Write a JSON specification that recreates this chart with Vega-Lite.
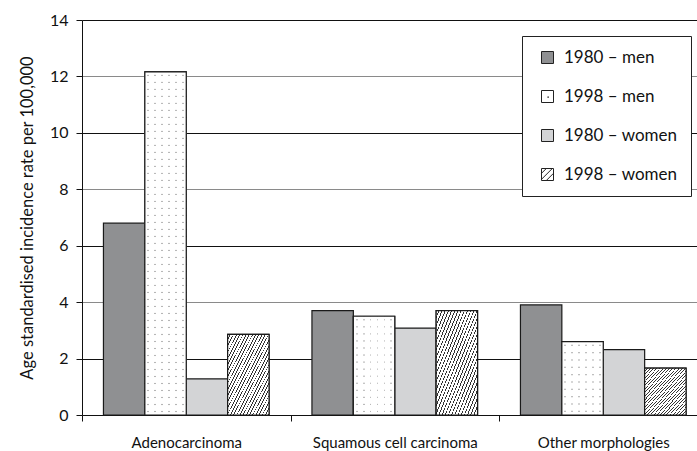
{
  "$schema": "https://vega.github.io/schema/vega-lite/v6.json",
  "width": 615,
  "height": 395,
  "autosize": {"type": "none"},
  "padding": {"left": 82, "top": 20, "right": 0, "bottom": 36},
  "background": "white",
  "config": {"view": {"stroke": null}, "font": "Lato"},
  "data": {
    "values": [
      {"category": "Adenocarcinoma", "series": "1980 – men", "value": 6.8},
      {"category": "Adenocarcinoma", "series": "1998 – men", "value": 12.16},
      {"category": "Adenocarcinoma", "series": "1980 – women", "value": 1.28},
      {"category": "Adenocarcinoma", "series": "1998 – women", "value": 2.86},
      {"category": "Squamous cell carcinoma", "series": "1980 – men", "value": 3.7},
      {"category": "Squamous cell carcinoma", "series": "1998 – men", "value": 3.5},
      {"category": "Squamous cell carcinoma", "series": "1980 – women", "value": 3.08},
      {"category": "Squamous cell carcinoma", "series": "1998 – women", "value": 3.7},
      {"category": "Other morphologies", "series": "1980 – men", "value": 3.9},
      {"category": "Other morphologies", "series": "1998 – men", "value": 2.6},
      {"category": "Other morphologies", "series": "1980 – women", "value": 2.32},
      {"category": "Other morphologies", "series": "1998 – women", "value": 1.66}
    ]
  },
  "encoding": {
    "x": {
      "field": "category", "type": "nominal",
      "scale": {"domain": ["Adenocarcinoma", "Squamous cell carcinoma", "Other morphologies"], "range": [0, 625.5], "paddingInner": 0, "paddingOuter": 0},
      "axis": {"title": null, "labelAngle": 0, "labelFontSize": 15, "labelColor": "#111", "labelPadding": 14, "tickBand": "extent", "tickSize": 6, "tickColor": "#111", "domainColor": "#111", "grid": false}
    },
    "xOffset": {
      "field": "series", "type": "nominal",
      "scale": {"domain": ["1980 – men", "1998 – men", "1980 – women", "1998 – women"], "paddingInner": 0, "paddingOuter": 0.518}
    },
    "y": {
      "field": "value", "type": "quantitative",
      "scale": {"domain": [0, 14], "nice": false},
      "axis": {
        "title": "Age standardised incidence rate per 100,000",
        "titleFontSize": 16.5, "titleFontWeight": "normal", "titleColor": "#111", "titlePadding": 14,
        "values": [0, 2, 4, 6, 8, 10, 12, 14],
        "labelFontSize": 16, "labelColor": "#111", "labelPadding": 8,
        "tickSize": 6, "tickColor": "#111", "domainColor": "#111",
        "grid": true,
        "gridColor": {"condition": {"test": "datum.value % 4 === 0", "value": "#8a8a8a"}, "value": "#111"},
        "gridWidth": 1
      }
    }
  },
  "layer": [
    {
      "mark": {"type": "bar", "stroke": "#1a1a1a", "strokeWidth": 1.2},
      "encoding": {
        "color": {
          "field": "series", "type": "nominal",
          "scale": {"domain": ["1980 – men", "1998 – men", "1980 – women", "1998 – women"], "range": ["#8f9092", "#ffffff", "#d3d4d6", "#ffffff"]},
          "legend": {
            "orient": "none", "legendX": 440, "legendY": 16, "title": null,
            "padding": 13, "symbolType": "square", "symbolSize": 144,
            "symbolStrokeColor": "#222", "symbolStrokeWidth": 1, "symbolOffset": 4,
            "labelFontSize": 17, "labelOffset": 8, "rowPadding": 21, "labelColor": "#111",
            "strokeColor": "#222", "fillColor": "#ffffff",
            "encode": {"symbols": {"update": {
              "stroke": {"value": "#222"},
              "strokeWidth": {"value": 1},
              "shape": [
                {"test": "datum.value === '1998 – women'", "value": "M-1,-1H1V1H-1Z M-1,-0.2L-0.2,-1 M-1,0.8L0.8,-1 M-0.2,1L1,-0.2"},
                {"test": "datum.value === '1998 – men'", "value": "M-1,-1H1V1H-1Z M0.05,0.05h0.1v0.1h-0.1Z"},
                {"value": "square"}
              ]
            }}}
          }
        }
      }
    },
    {
      "transform": [{"filter": "datum.series === '1998 – women'"}],
      "mark": {"type": "bar", "stroke": "#1a1a1a", "strokeWidth": 1.2, "fill": {"gradient": "linear", "x1": 0, "y1": 0, "x2": 1, "y2": 1, "stops": [
        {"offset": 0, "color": "#fff"}, {"offset": 0.0277, "color": "#fff"}, {"offset": 0.0277, "color": "#333"}, {"offset": 0.0385, "color": "#333"},
        {"offset": 0.0385, "color": "#fff"}, {"offset": 0.0661, "color": "#fff"}, {"offset": 0.0661, "color": "#333"}, {"offset": 0.0769, "color": "#333"},
        {"offset": 0.0769, "color": "#fff"}, {"offset": 0.1046, "color": "#fff"}, {"offset": 0.1046, "color": "#333"}, {"offset": 0.1154, "color": "#333"},
        {"offset": 0.1154, "color": "#fff"}, {"offset": 0.1431, "color": "#fff"}, {"offset": 0.1431, "color": "#333"}, {"offset": 0.1538, "color": "#333"},
        {"offset": 0.1538, "color": "#fff"}, {"offset": 0.1815, "color": "#fff"}, {"offset": 0.1815, "color": "#333"}, {"offset": 0.1923, "color": "#333"},
        {"offset": 0.1923, "color": "#fff"}, {"offset": 0.22, "color": "#fff"}, {"offset": 0.22, "color": "#333"}, {"offset": 0.2308, "color": "#333"},
        {"offset": 0.2308, "color": "#fff"}, {"offset": 0.2585, "color": "#fff"}, {"offset": 0.2585, "color": "#333"}, {"offset": 0.2692, "color": "#333"},
        {"offset": 0.2692, "color": "#fff"}, {"offset": 0.2969, "color": "#fff"}, {"offset": 0.2969, "color": "#333"}, {"offset": 0.3077, "color": "#333"},
        {"offset": 0.3077, "color": "#fff"}, {"offset": 0.3354, "color": "#fff"}, {"offset": 0.3354, "color": "#333"}, {"offset": 0.3462, "color": "#333"},
        {"offset": 0.3462, "color": "#fff"}, {"offset": 0.3738, "color": "#fff"}, {"offset": 0.3738, "color": "#333"}, {"offset": 0.3846, "color": "#333"},
        {"offset": 0.3846, "color": "#fff"}, {"offset": 0.4123, "color": "#fff"}, {"offset": 0.4123, "color": "#333"}, {"offset": 0.4231, "color": "#333"},
        {"offset": 0.4231, "color": "#fff"}, {"offset": 0.4508, "color": "#fff"}, {"offset": 0.4508, "color": "#333"}, {"offset": 0.4615, "color": "#333"},
        {"offset": 0.4615, "color": "#fff"}, {"offset": 0.4892, "color": "#fff"}, {"offset": 0.4892, "color": "#333"}, {"offset": 0.5, "color": "#333"},
        {"offset": 0.5, "color": "#fff"}, {"offset": 0.5277, "color": "#fff"}, {"offset": 0.5277, "color": "#333"}, {"offset": 0.5385, "color": "#333"},
        {"offset": 0.5385, "color": "#fff"}, {"offset": 0.5661, "color": "#fff"}, {"offset": 0.5661, "color": "#333"}, {"offset": 0.5769, "color": "#333"},
        {"offset": 0.5769, "color": "#fff"}, {"offset": 0.6046, "color": "#fff"}, {"offset": 0.6046, "color": "#333"}, {"offset": 0.6154, "color": "#333"},
        {"offset": 0.6154, "color": "#fff"}, {"offset": 0.6431, "color": "#fff"}, {"offset": 0.6431, "color": "#333"}, {"offset": 0.6538, "color": "#333"},
        {"offset": 0.6538, "color": "#fff"}, {"offset": 0.6815, "color": "#fff"}, {"offset": 0.6815, "color": "#333"}, {"offset": 0.6923, "color": "#333"},
        {"offset": 0.6923, "color": "#fff"}, {"offset": 0.72, "color": "#fff"}, {"offset": 0.72, "color": "#333"}, {"offset": 0.7308, "color": "#333"},
        {"offset": 0.7308, "color": "#fff"}, {"offset": 0.7585, "color": "#fff"}, {"offset": 0.7585, "color": "#333"}, {"offset": 0.7692, "color": "#333"},
        {"offset": 0.7692, "color": "#fff"}, {"offset": 0.7969, "color": "#fff"}, {"offset": 0.7969, "color": "#333"}, {"offset": 0.8077, "color": "#333"},
        {"offset": 0.8077, "color": "#fff"}, {"offset": 0.8354, "color": "#fff"}, {"offset": 0.8354, "color": "#333"}, {"offset": 0.8462, "color": "#333"},
        {"offset": 0.8462, "color": "#fff"}, {"offset": 0.8738, "color": "#fff"}, {"offset": 0.8738, "color": "#333"}, {"offset": 0.8846, "color": "#333"},
        {"offset": 0.8846, "color": "#fff"}, {"offset": 0.9123, "color": "#fff"}, {"offset": 0.9123, "color": "#333"}, {"offset": 0.9231, "color": "#333"},
        {"offset": 0.9231, "color": "#fff"}, {"offset": 0.9508, "color": "#fff"}, {"offset": 0.9508, "color": "#333"}, {"offset": 0.9615, "color": "#333"},
        {"offset": 0.9615, "color": "#fff"}, {"offset": 0.9892, "color": "#fff"}, {"offset": 0.9892, "color": "#333"}, {"offset": 1, "color": "#333"}
      ]}}
    },
    {
      "transform": [{"filter": "datum.series === '1998 – men'"}],
      "mark": {"type": "bar", "strokeWidth": 0, "fill": {"gradient": "linear", "x1": 0, "y1": 0, "x2": 1, "y2": 0, "stops": [
        {"offset": 0, "color": "#fff"}, {"offset": 0.0633, "color": "#fff"}, {"offset": 0.0633, "color": "#b5b5b5"}, {"offset": 0.1033, "color": "#b5b5b5"}, {"offset": 0.1033, "color": "#fff"},
        {"offset": 0.23, "color": "#fff"}, {"offset": 0.23, "color": "#b5b5b5"}, {"offset": 0.27, "color": "#b5b5b5"}, {"offset": 0.27, "color": "#fff"},
        {"offset": 0.3967, "color": "#fff"}, {"offset": 0.3967, "color": "#b5b5b5"}, {"offset": 0.4367, "color": "#b5b5b5"}, {"offset": 0.4367, "color": "#fff"},
        {"offset": 0.5633, "color": "#fff"}, {"offset": 0.5633, "color": "#b5b5b5"}, {"offset": 0.6033, "color": "#b5b5b5"}, {"offset": 0.6033, "color": "#fff"},
        {"offset": 0.73, "color": "#fff"}, {"offset": 0.73, "color": "#b5b5b5"}, {"offset": 0.77, "color": "#b5b5b5"}, {"offset": 0.77, "color": "#fff"},
        {"offset": 0.8967, "color": "#fff"}, {"offset": 0.8967, "color": "#b5b5b5"}, {"offset": 0.9367, "color": "#b5b5b5"}, {"offset": 0.9367, "color": "#fff"},
        {"offset": 1, "color": "#fff"}
      ]}}
    },
    {
      "transform": [{"filter": "datum.series === '1998 – men' && datum.category === 'Adenocarcinoma'"}],
      "mark": {"type": "bar", "strokeWidth": 0, "fill": {"gradient": "linear", "x1": 0, "y1": 0, "x2": 0, "y2": 1, "stops": [
        {"offset": 0, "color": "#fff"},
        {"offset": 0.0071, "color": "#fff"}, {"offset": 0.0102, "color": "rgba(255,255,255,0)"}, {"offset": 0.0133, "color": "#fff"},
        {"offset": 0.0276, "color": "#fff"}, {"offset": 0.0306, "color": "rgba(255,255,255,0)"}, {"offset": 0.0337, "color": "#fff"},
        {"offset": 0.048, "color": "#fff"}, {"offset": 0.051, "color": "rgba(255,255,255,0)"}, {"offset": 0.0541, "color": "#fff"},
        {"offset": 0.0684, "color": "#fff"}, {"offset": 0.0714, "color": "rgba(255,255,255,0)"}, {"offset": 0.0745, "color": "#fff"},
        {"offset": 0.0888, "color": "#fff"}, {"offset": 0.0918, "color": "rgba(255,255,255,0)"}, {"offset": 0.0949, "color": "#fff"},
        {"offset": 0.1092, "color": "#fff"}, {"offset": 0.1122, "color": "rgba(255,255,255,0)"}, {"offset": 0.1153, "color": "#fff"},
        {"offset": 0.1296, "color": "#fff"}, {"offset": 0.1327, "color": "rgba(255,255,255,0)"}, {"offset": 0.1357, "color": "#fff"},
        {"offset": 0.15, "color": "#fff"}, {"offset": 0.1531, "color": "rgba(255,255,255,0)"}, {"offset": 0.1561, "color": "#fff"},
        {"offset": 0.1704, "color": "#fff"}, {"offset": 0.1735, "color": "rgba(255,255,255,0)"}, {"offset": 0.1765, "color": "#fff"},
        {"offset": 0.1908, "color": "#fff"}, {"offset": 0.1939, "color": "rgba(255,255,255,0)"}, {"offset": 0.1969, "color": "#fff"},
        {"offset": 0.2112, "color": "#fff"}, {"offset": 0.2143, "color": "rgba(255,255,255,0)"}, {"offset": 0.2173, "color": "#fff"},
        {"offset": 0.2316, "color": "#fff"}, {"offset": 0.2347, "color": "rgba(255,255,255,0)"}, {"offset": 0.2378, "color": "#fff"},
        {"offset": 0.252, "color": "#fff"}, {"offset": 0.2551, "color": "rgba(255,255,255,0)"}, {"offset": 0.2582, "color": "#fff"},
        {"offset": 0.2724, "color": "#fff"}, {"offset": 0.2755, "color": "rgba(255,255,255,0)"}, {"offset": 0.2786, "color": "#fff"},
        {"offset": 0.2929, "color": "#fff"}, {"offset": 0.2959, "color": "rgba(255,255,255,0)"}, {"offset": 0.299, "color": "#fff"},
        {"offset": 0.3133, "color": "#fff"}, {"offset": 0.3163, "color": "rgba(255,255,255,0)"}, {"offset": 0.3194, "color": "#fff"},
        {"offset": 0.3337, "color": "#fff"}, {"offset": 0.3367, "color": "rgba(255,255,255,0)"}, {"offset": 0.3398, "color": "#fff"},
        {"offset": 0.3541, "color": "#fff"}, {"offset": 0.3571, "color": "rgba(255,255,255,0)"}, {"offset": 0.3602, "color": "#fff"},
        {"offset": 0.3745, "color": "#fff"}, {"offset": 0.3776, "color": "rgba(255,255,255,0)"}, {"offset": 0.3806, "color": "#fff"},
        {"offset": 0.3949, "color": "#fff"}, {"offset": 0.398, "color": "rgba(255,255,255,0)"}, {"offset": 0.401, "color": "#fff"},
        {"offset": 0.4153, "color": "#fff"}, {"offset": 0.4184, "color": "rgba(255,255,255,0)"}, {"offset": 0.4214, "color": "#fff"},
        {"offset": 0.4357, "color": "#fff"}, {"offset": 0.4388, "color": "rgba(255,255,255,0)"}, {"offset": 0.4418, "color": "#fff"},
        {"offset": 0.4561, "color": "#fff"}, {"offset": 0.4592, "color": "rgba(255,255,255,0)"}, {"offset": 0.4622, "color": "#fff"},
        {"offset": 0.4765, "color": "#fff"}, {"offset": 0.4796, "color": "rgba(255,255,255,0)"}, {"offset": 0.4827, "color": "#fff"},
        {"offset": 0.4969, "color": "#fff"}, {"offset": 0.5, "color": "rgba(255,255,255,0)"}, {"offset": 0.5031, "color": "#fff"},
        {"offset": 0.5173, "color": "#fff"}, {"offset": 0.5204, "color": "rgba(255,255,255,0)"}, {"offset": 0.5235, "color": "#fff"},
        {"offset": 0.5378, "color": "#fff"}, {"offset": 0.5408, "color": "rgba(255,255,255,0)"}, {"offset": 0.5439, "color": "#fff"},
        {"offset": 0.5582, "color": "#fff"}, {"offset": 0.5612, "color": "rgba(255,255,255,0)"}, {"offset": 0.5643, "color": "#fff"},
        {"offset": 0.5786, "color": "#fff"}, {"offset": 0.5816, "color": "rgba(255,255,255,0)"}, {"offset": 0.5847, "color": "#fff"},
        {"offset": 0.599, "color": "#fff"}, {"offset": 0.602, "color": "rgba(255,255,255,0)"}, {"offset": 0.6051, "color": "#fff"},
        {"offset": 0.6194, "color": "#fff"}, {"offset": 0.6224, "color": "rgba(255,255,255,0)"}, {"offset": 0.6255, "color": "#fff"},
        {"offset": 0.6398, "color": "#fff"}, {"offset": 0.6429, "color": "rgba(255,255,255,0)"}, {"offset": 0.6459, "color": "#fff"},
        {"offset": 0.6602, "color": "#fff"}, {"offset": 0.6633, "color": "rgba(255,255,255,0)"}, {"offset": 0.6663, "color": "#fff"},
        {"offset": 0.6806, "color": "#fff"}, {"offset": 0.6837, "color": "rgba(255,255,255,0)"}, {"offset": 0.6867, "color": "#fff"},
        {"offset": 0.701, "color": "#fff"}, {"offset": 0.7041, "color": "rgba(255,255,255,0)"}, {"offset": 0.7071, "color": "#fff"},
        {"offset": 0.7214, "color": "#fff"}, {"offset": 0.7245, "color": "rgba(255,255,255,0)"}, {"offset": 0.7276, "color": "#fff"},
        {"offset": 0.7418, "color": "#fff"}, {"offset": 0.7449, "color": "rgba(255,255,255,0)"}, {"offset": 0.748, "color": "#fff"},
        {"offset": 0.7622, "color": "#fff"}, {"offset": 0.7653, "color": "rgba(255,255,255,0)"}, {"offset": 0.7684, "color": "#fff"},
        {"offset": 0.7827, "color": "#fff"}, {"offset": 0.7857, "color": "rgba(255,255,255,0)"}, {"offset": 0.7888, "color": "#fff"},
        {"offset": 0.8031, "color": "#fff"}, {"offset": 0.8061, "color": "rgba(255,255,255,0)"}, {"offset": 0.8092, "color": "#fff"},
        {"offset": 0.8235, "color": "#fff"}, {"offset": 0.8265, "color": "rgba(255,255,255,0)"}, {"offset": 0.8296, "color": "#fff"},
        {"offset": 0.8439, "color": "#fff"}, {"offset": 0.8469, "color": "rgba(255,255,255,0)"}, {"offset": 0.85, "color": "#fff"},
        {"offset": 0.8643, "color": "#fff"}, {"offset": 0.8673, "color": "rgba(255,255,255,0)"}, {"offset": 0.8704, "color": "#fff"},
        {"offset": 0.8847, "color": "#fff"}, {"offset": 0.8878, "color": "rgba(255,255,255,0)"}, {"offset": 0.8908, "color": "#fff"},
        {"offset": 0.9051, "color": "#fff"}, {"offset": 0.9082, "color": "rgba(255,255,255,0)"}, {"offset": 0.9112, "color": "#fff"},
        {"offset": 0.9255, "color": "#fff"}, {"offset": 0.9286, "color": "rgba(255,255,255,0)"}, {"offset": 0.9316, "color": "#fff"},
        {"offset": 0.9459, "color": "#fff"}, {"offset": 0.949, "color": "rgba(255,255,255,0)"}, {"offset": 0.952, "color": "#fff"},
        {"offset": 0.9663, "color": "#fff"}, {"offset": 0.9694, "color": "rgba(255,255,255,0)"}, {"offset": 0.9725, "color": "#fff"},
        {"offset": 0.9867, "color": "#fff"}, {"offset": 0.9898, "color": "rgba(255,255,255,0)"}, {"offset": 0.9929, "color": "#fff"},
        {"offset": 1, "color": "#fff"}
      ]}}
    },
    {
      "transform": [{"filter": "datum.series === '1998 – men' && datum.category === 'Squamous cell carcinoma'"}],
      "mark": {"type": "bar", "strokeWidth": 0, "fill": {"gradient": "linear", "x1": 0, "y1": 0, "x2": 0, "y2": 1, "stops": [
        {"offset": 0, "color": "#fff"},
        {"offset": 0.025, "color": "#fff"}, {"offset": 0.0357, "color": "rgba(255,255,255,0)"}, {"offset": 0.0464, "color": "#fff"},
        {"offset": 0.0964, "color": "#fff"}, {"offset": 0.1071, "color": "rgba(255,255,255,0)"}, {"offset": 0.1179, "color": "#fff"},
        {"offset": 0.1679, "color": "#fff"}, {"offset": 0.1786, "color": "rgba(255,255,255,0)"}, {"offset": 0.1893, "color": "#fff"},
        {"offset": 0.2393, "color": "#fff"}, {"offset": 0.25, "color": "rgba(255,255,255,0)"}, {"offset": 0.2607, "color": "#fff"},
        {"offset": 0.3107, "color": "#fff"}, {"offset": 0.3214, "color": "rgba(255,255,255,0)"}, {"offset": 0.3321, "color": "#fff"},
        {"offset": 0.3821, "color": "#fff"}, {"offset": 0.3929, "color": "rgba(255,255,255,0)"}, {"offset": 0.4036, "color": "#fff"},
        {"offset": 0.4536, "color": "#fff"}, {"offset": 0.4643, "color": "rgba(255,255,255,0)"}, {"offset": 0.475, "color": "#fff"},
        {"offset": 0.525, "color": "#fff"}, {"offset": 0.5357, "color": "rgba(255,255,255,0)"}, {"offset": 0.5464, "color": "#fff"},
        {"offset": 0.5964, "color": "#fff"}, {"offset": 0.6071, "color": "rgba(255,255,255,0)"}, {"offset": 0.6179, "color": "#fff"},
        {"offset": 0.6679, "color": "#fff"}, {"offset": 0.6786, "color": "rgba(255,255,255,0)"}, {"offset": 0.6893, "color": "#fff"},
        {"offset": 0.7393, "color": "#fff"}, {"offset": 0.75, "color": "rgba(255,255,255,0)"}, {"offset": 0.7607, "color": "#fff"},
        {"offset": 0.8107, "color": "#fff"}, {"offset": 0.8214, "color": "rgba(255,255,255,0)"}, {"offset": 0.8321, "color": "#fff"},
        {"offset": 0.8821, "color": "#fff"}, {"offset": 0.8929, "color": "rgba(255,255,255,0)"}, {"offset": 0.9036, "color": "#fff"},
        {"offset": 0.9536, "color": "#fff"}, {"offset": 0.9643, "color": "rgba(255,255,255,0)"}, {"offset": 0.975, "color": "#fff"},
        {"offset": 1, "color": "#fff"}
      ]}}
    },
    {
      "transform": [{"filter": "datum.series === '1998 – men' && datum.category === 'Other morphologies'"}],
      "mark": {"type": "bar", "strokeWidth": 0, "fill": {"gradient": "linear", "x1": 0, "y1": 0, "x2": 0, "y2": 1, "stops": [
        {"offset": 0, "color": "#fff"},
        {"offset": 0.035, "color": "#fff"}, {"offset": 0.05, "color": "rgba(255,255,255,0)"}, {"offset": 0.065, "color": "#fff"},
        {"offset": 0.135, "color": "#fff"}, {"offset": 0.15, "color": "rgba(255,255,255,0)"}, {"offset": 0.165, "color": "#fff"},
        {"offset": 0.235, "color": "#fff"}, {"offset": 0.25, "color": "rgba(255,255,255,0)"}, {"offset": 0.265, "color": "#fff"},
        {"offset": 0.335, "color": "#fff"}, {"offset": 0.35, "color": "rgba(255,255,255,0)"}, {"offset": 0.365, "color": "#fff"},
        {"offset": 0.435, "color": "#fff"}, {"offset": 0.45, "color": "rgba(255,255,255,0)"}, {"offset": 0.465, "color": "#fff"},
        {"offset": 0.535, "color": "#fff"}, {"offset": 0.55, "color": "rgba(255,255,255,0)"}, {"offset": 0.565, "color": "#fff"},
        {"offset": 0.635, "color": "#fff"}, {"offset": 0.65, "color": "rgba(255,255,255,0)"}, {"offset": 0.665, "color": "#fff"},
        {"offset": 0.735, "color": "#fff"}, {"offset": 0.75, "color": "rgba(255,255,255,0)"}, {"offset": 0.765, "color": "#fff"},
        {"offset": 0.835, "color": "#fff"}, {"offset": 0.85, "color": "rgba(255,255,255,0)"}, {"offset": 0.865, "color": "#fff"},
        {"offset": 0.935, "color": "#fff"}, {"offset": 0.95, "color": "rgba(255,255,255,0)"}, {"offset": 0.965, "color": "#fff"},
        {"offset": 1, "color": "#fff"}
      ]}}
    },
    {
      "transform": [{"filter": "datum.series === '1998 – men'"}],
      "mark": {"type": "bar", "fill": "#fff", "fillOpacity": 0, "stroke": "#1a1a1a", "strokeWidth": 1.2}
    }
  ]
}
